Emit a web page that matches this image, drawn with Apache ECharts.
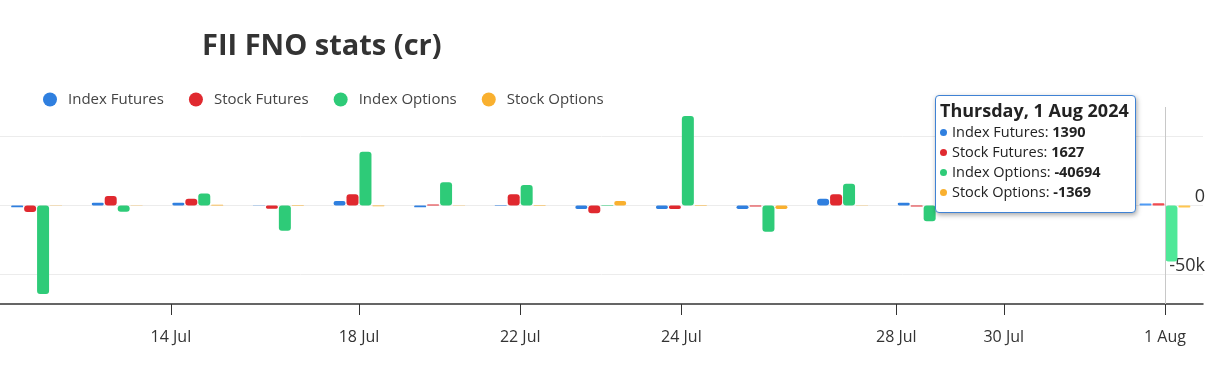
<!DOCTYPE html>
<html><head><meta charset="utf-8">
<script src="https://cdn.jsdelivr.net/npm/echarts@6/dist/echarts.min.js"></script>
<style>html,body{margin:0;padding:0;background:#fff}#c{width:1213px;height:373px}</style>
</head><body><div id="c"></div>
<script>
// ---- data ----
const tradingDates = ['2024-07-11','2024-07-12','2024-07-15','2024-07-16','2024-07-18','2024-07-19','2024-07-22','2024-07-23','2024-07-24','2024-07-25','2024-07-26','2024-07-29','2024-07-30','2024-07-31','2024-08-01'];
const indexFutures = [-1300, 2000, 2000, 100, 3300, -1300, -400, -2500, -2500, -2500, 4900, 2000, 1500, -600, 1390];
const stockFutures = [-4700, 6900, 4900, -2300, 8100, 700, 8100, -5700, -2600, -700, 8100, -800, 2500, 1200, 1627];
const indexOptions = [-64200, -4500, 8800, -18300, 39000, 16800, 14900, 300, 64900, -19000, 15800, -11500, 18000, 6000, -40694];
const stockOptions = [-200, 200, 500, 300, -500, 100, 300, 3300, 300, -2500, 100, -300, 1000, -700, -1369];
const seriesNames = ['Index Futures','Stock Futures','Index Options','Stock Options'];
const tickDates = ['2024-07-14','2024-07-18','2024-07-22','2024-07-24','2024-07-28','2024-07-30','2024-08-01'];
const tickLabels = ['14 Jul','18 Jul','22 Jul','24 Jul','28 Jul','30 Jul','1 Aug'];
const yLabelValues = [-50000, 0];
const gridValues = [-50000, 0, 50000];
const hoverDate = '2024-08-01';

// ---- helpers ----
const colors = ['#2f7fdf','#e0292f','#2ecb78','#f9b02f'];
const hoverColors = ['#4f9bf5','#f04a4f','#4fe898','#ffc64f'];
const tms = tradingDates.map(d => Date.parse(d));
function ordinalPos(d) {
  const t = Date.parse(d);
  for (let i = 0; i < tms.length - 1; i++) {
    if (t <= tms[i + 1]) return i + (t - tms[i]) / (tms[i + 1] - tms[i]);
  }
  return tms.length - 1;
}
const tickPos = tickDates.map(ordinalPos);
const hoverIndex = tradingDates.indexOf(hoverDate);
const allSeries = [indexFutures, stockFutures, indexOptions, stockOptions];
const days = ['Sunday','Monday','Tuesday','Wednesday','Thursday','Friday','Saturday'];
const months = ['Jan','Feb','Mar','Apr','May','Jun','Jul','Aug','Sep','Oct','Nov','Dec'];
function fmtDate(d) {
  const dt = new Date(d + 'T00:00:00Z');
  return days[dt.getUTCDay()] + ', ' + dt.getUTCDate() + ' ' + months[dt.getUTCMonth()] + ' ' + dt.getUTCFullYear();
}

const chart = echarts.init(document.getElementById('c'), null, {renderer: 'canvas'});
const series = allSeries.map((vals, s) => ({
  name: seriesNames[s],
  type: 'bar',
  barWidth: 12,
  barGap: '8%',
  data: vals.map((v, i) => [i, v]),
  itemStyle: {
    color: p => p.dataIndex === hoverIndex ? hoverColors[s] : colors[s],
    borderRadius: 3
  },
  emphasis: {disabled: true},
  markLine: s === 0 ? {
    silent: true, symbol: 'none', label: {show: false},
    lineStyle: {color: '#ececec', width: 1, type: 'solid'},
    data: gridValues.map(v => ({yAxis: v})),
    z: 0
  } : undefined,
  z: 2
}));

chart.setOption({
  animation: false,
  textStyle: {fontFamily: 'Open Sans'},
  title: {
    text: 'FII FNO stats (cr)', left: 197, top: 27,
    textStyle: {fontSize: 29, fontWeight: 'bold', color: '#333', fontFamily: 'Open Sans'}
  },
  legend: {
    left: 38, top: 87, icon: 'circle', itemWidth: 26, itemHeight: 14, itemGap: 25,
    textStyle: {fontSize: 15, color: '#444'},
    data: seriesNames.map((n, i) => ({name: n, itemStyle: {color: colors[i]}}))
  },
  grid: {left: 0, right: 10, top: 107, bottom: 69, containLabel: false},
  xAxis: {
    type: 'value', min: -0.454, max: 14.472,
    splitLine: {show: false},
    axisLine: {show: true, onZero: false, lineStyle: {color: '#333', width: 1.5}},
    axisTick: {show: true, customValues: tickPos, length: 11, lineStyle: {color: '#333'}},
    axisLabel: {
      customValues: tickPos, margin: 25, fontSize: 16, color: '#333',
      formatter: v => {
        let best = 0;
        tickPos.forEach((p, i) => { if (Math.abs(p - v) < Math.abs(tickPos[best] - v)) best = i; });
        return tickLabels[best];
      }
    }
  },
  yAxis: {
    type: 'value', position: 'right', min: -71500, max: 71500,
    splitLine: {show: false},
    axisLine: {show: false}, axisTick: {show: false},
    axisLabel: {
      inside: true, customValues: yLabelValues, margin: -2, fontSize: 18, color: '#333',
      verticalAlign: 'bottom',
      formatter: v => v === 0 ? '0' : (v / 1000) + 'k'
    }
  },
  tooltip: {
    trigger: 'axis', triggerOn: 'none', alwaysShowContent: true,
    position: [935, 95],
    axisPointer: {type: 'line', snap: true, lineStyle: {color: '#c8c8c8', width: 1, type: 'solid'}, label: {show: false}},
    backgroundColor: '#fff', borderColor: '#3f82d4', borderWidth: 1.5, padding: [2, 6, 10, 4],
    extraCssText: 'box-shadow:1px 2px 5px rgba(0,0,0,0.35);border-radius:4px;',
    formatter: params => {
      const idx = params[0].dataIndex;
      let html = '<div style="font-family:Open Sans;color:#222;">';
      html += '<div style="font-weight:700;font-size:18px;line-height:24px;">' + fmtDate(tradingDates[idx]) + '</div>';
      allSeries.forEach((vals, s) => {
        html += '<div style="font-size:14.5px;line-height:20px;"><span style="display:inline-block;width:7px;height:7px;border-radius:50%;background:' + colors[s] + ';margin-right:5px;vertical-align:middle;position:relative;top:-1px;"></span>' + seriesNames[s] + ': <b>' + vals[idx] + '</b></div>';
      });
      return html + '</div>';
    }
  },
  series: series
});
chart.dispatchAction({type: 'showTip', seriesIndex: 2, dataIndex: hoverIndex});
</script>
</body></html>
